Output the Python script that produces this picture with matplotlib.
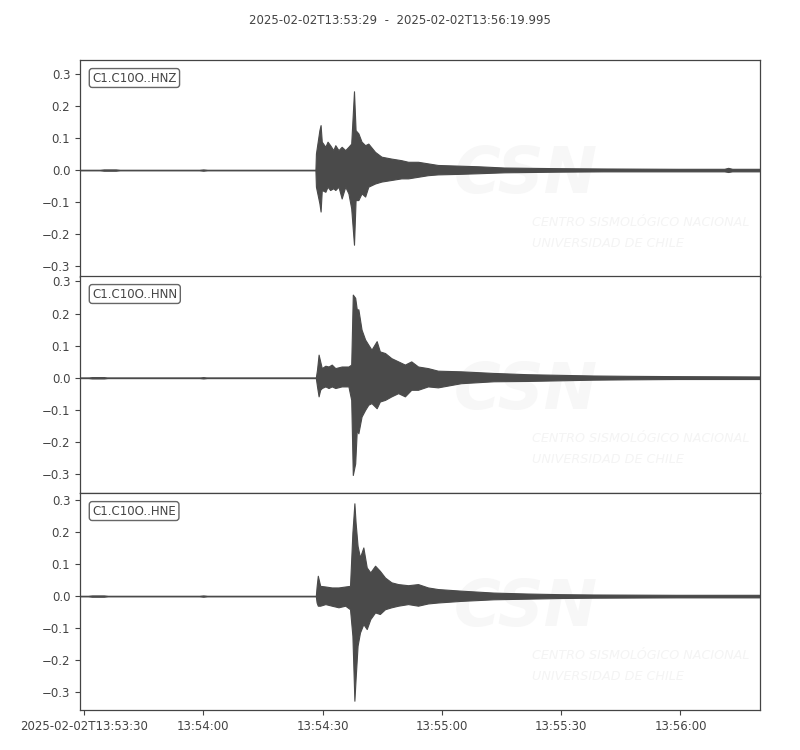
import numpy as np
import matplotlib.pyplot as plt
from matplotlib.ticker import FixedLocator

# seconds after 2025-02-02T13:53:29
title = "2025-02-02T13:53:29  -  2025-02-02T13:56:19.995"
t_end = 170.995
tick_secs = [1, 31, 61, 91, 121, 151]
tick_labels = ["2025-02-02T13:53:30", "13:54:00", "13:54:30", "13:55:00", "13:55:30", "13:56:00"]
yticks = [-0.3, -0.2, -0.1, 0.0, 0.1, 0.2, 0.3]

channels = ["C1.C10O..HNZ", "C1.C10O..HNN", "C1.C10O..HNE"]
ylims = [(-0.335, 0.345), (-0.359, 0.317), (-0.356, 0.322)]

# envelope (time, upper, lower)
t_z = [0, 5, 6, 9, 10, 30, 31, 32, 59.2, 59.33, 60.2, 60.5, 60.8, 61.7, 62.25, 62.9, 63.7, 64.2, 65.0,
       65.8, 66.7, 67.5, 68.2, 68.9, 69.3, 70.0, 70.8, 71.7, 72.5, 74.2, 75.8, 78.3, 80.8, 82.5,
       85.0, 87.5, 90.0, 95.0, 100.0, 106.7, 120.0, 131.7, 150.0, 162.0, 163.0, 164.0, 170.995]
up_z = [0.0005, 0.0005, 0.002, 0.002, 0.0005, 0.0005, 0.002, 0.0005, 0.0005, 0.052, 0.125, 0.141,
        0.089, 0.073, 0.089, 0.078, 0.0625, 0.078, 0.0625, 0.073, 0.0625, 0.073, 0.083, 0.247,
        0.125, 0.115, 0.089, 0.078, 0.083, 0.057, 0.042, 0.036, 0.031, 0.026, 0.026, 0.021, 0.016,
        0.014, 0.012, 0.008, 0.006, 0.005, 0.004, 0.004, 0.007, 0.004, 0.004]
lo_z = [-0.0005, -0.0005, -0.002, -0.002, -0.0005, -0.0005, -0.002, -0.0005, -0.0005, -0.052,
        -0.104, -0.130, -0.0625, -0.068, -0.052, -0.0625, -0.057, -0.0625, -0.052, -0.089, -0.052,
        -0.073, -0.12, -0.234, -0.094, -0.094, -0.073, -0.083, -0.052, -0.042, -0.036, -0.031,
        -0.026, -0.026, -0.021, -0.016, -0.0135, -0.012, -0.010, -0.007, -0.005, -0.004, -0.004,
        -0.004, -0.006, -0.004, -0.004]

t_n = [0, 2, 3, 6, 7, 30, 31, 32, 59.3, 59.6, 60.0, 60.4, 60.8, 61.7, 62.5, 63.3, 64.2, 65.8, 67.5,
       68.2, 68.6, 69.2, 69.6, 70.0, 70.8, 71.7, 72.5, 73.3, 74.6, 75.4, 76.7, 78.3, 80.0, 81.7,
       83.3, 85.0, 87.5, 90.0, 95.8, 104.0, 112.5, 120.8, 129.0, 137.5, 150.0, 170.995]
up_n = [0.0005, 0.0005, 0.002, 0.002, 0.0005, 0.0005, 0.002, 0.0005, 0.0005, 0.025, 0.072, 0.051,
        0.030, 0.0375, 0.035, 0.041, 0.030, 0.035, 0.035, 0.041, 0.259, 0.249, 0.213, 0.213, 0.15,
        0.119, 0.103, 0.0875, 0.114, 0.082, 0.077, 0.061, 0.051, 0.041, 0.051, 0.035, 0.030, 0.022,
        0.020, 0.015, 0.011, 0.009, 0.007, 0.006, 0.005, 0.004]
lo_n = [-0.0005, -0.0005, -0.002, -0.002, -0.0005, -0.0005, -0.002, -0.0005, -0.0005, -0.027,
        -0.058, -0.0375, -0.032, -0.027, -0.032, -0.027, -0.032, -0.027, -0.027, -0.069, -0.303,
        -0.267, -0.1625, -0.173, -0.121, -0.1, -0.084, -0.079, -0.095, -0.074, -0.069, -0.058,
        -0.048, -0.058, -0.0375, -0.0375, -0.027, -0.030, -0.017, -0.011, -0.010, -0.008, -0.006,
        -0.005, -0.004, -0.004]

t_e = [0, 2, 3, 6, 7, 30, 31, 32, 59.3, 59.5, 59.8, 60.4, 61.7, 63.3, 65.0, 66.7, 67.9, 68.5, 69.0,
       69.3, 69.8, 70.4, 71.25, 72.1, 73.0, 74.2, 75.4, 76.7, 78.3, 80.0, 82.5, 85.0, 87.5, 90.0,
       95.8, 104.0, 112.5, 120.8, 129.0, 150.0, 170.995]
up_e = [0.0005, 0.0005, 0.002, 0.002, 0.0005, 0.0005, 0.002, 0.0005, 0.0005, 0.03, 0.0635, 0.032,
        0.030, 0.027, 0.027, 0.030, 0.032, 0.199, 0.29, 0.23, 0.157, 0.121, 0.152, 0.0896, 0.074,
        0.095, 0.079, 0.058, 0.043, 0.0375, 0.034, 0.0375, 0.027, 0.022, 0.017, 0.011, 0.008,
        0.006, 0.005, 0.004, 0.004]
lo_e = [-0.0005, -0.0005, -0.002, -0.002, -0.0005, -0.0005, -0.002, -0.0005, -0.0005, -0.02,
        -0.030, -0.030, -0.025, -0.030, -0.035, -0.030, -0.041, -0.124, -0.327, -0.259, -0.155,
        -0.114, -0.0875, -0.103, -0.072, -0.051, -0.056, -0.041, -0.035, -0.030, -0.025, -0.030,
        -0.023, -0.020, -0.015, -0.010, -0.008, -0.006, -0.005, -0.004, -0.004]

series = [(t_z, up_z, lo_z), (t_n, up_n, lo_n), (t_e, up_e, lo_e)]

trace_color = '#4a4a4a'
text_color = '#444444'
plt.rcParams['font.family'] = ['DejaVu Sans']

fig = plt.figure(figsize=(8, 7.5), dpi=100)
bottoms = [0.6307, 0.3427, 0.0533]
height = 0.2893
for i in range(3):
    ax = fig.add_axes([0.1, bottoms[i], 0.85, height])
    t, up, lo = series[i]
    # faint logo watermark
    ax.text(0.55, 0.47, "CSN", transform=ax.transAxes, fontsize=46, fontweight='bold',
            style='italic', color='#f7f7f7', va='center', ha='left', zorder=0)
    ax.text(0.665, 0.25, "CENTRO SISMOLÓGICO NACIONAL", transform=ax.transAxes, fontsize=9.2,
            style='italic', color='#f4f4f4', va='center', ha='left', zorder=0)
    ax.text(0.665, 0.155, "UNIVERSIDAD DE CHILE", transform=ax.transAxes, fontsize=9.2,
            style='italic', color='#f4f4f4', va='center', ha='left', zorder=0)
    ax.fill_between(t, lo, up, color=trace_color, linewidth=0.8, edgecolor=trace_color, zorder=2)
    ax.plot([0, t_end], [0, 0], color=trace_color, lw=1.0, zorder=2)
    ax.set_xlim(0, t_end)
    ax.set_ylim(*ylims[i])
    ax.yaxis.set_major_locator(FixedLocator(yticks))
    ax.set_yticklabels([f"{v:.1f}".replace('-', '\u2212') for v in yticks])
    ax.tick_params(colors=text_color, labelsize=8.5, length=3.5, width=0.8)
    for sp in ax.spines.values():
        sp.set_color('#444444')
        sp.set_linewidth(0.9)
    ax.text(0.018, 0.917, channels[i], transform=ax.transAxes, fontsize=8.5, color=text_color,
            va='center', ha='left',
            bbox=dict(boxstyle='round,pad=0.25', facecolor='white', edgecolor='#666666', lw=1.0),
            zorder=5)
    ax.xaxis.set_major_locator(FixedLocator(tick_secs))
    if i < 2:
        ax.tick_params(axis='x', bottom=False, labelbottom=False)
    else:
        ax.set_xticklabels(tick_labels)

fig.text(0.5, 0.973, title, ha='center', va='center', fontsize=8.5, color=text_color)
fig.savefig('out.png', dpi=100)
